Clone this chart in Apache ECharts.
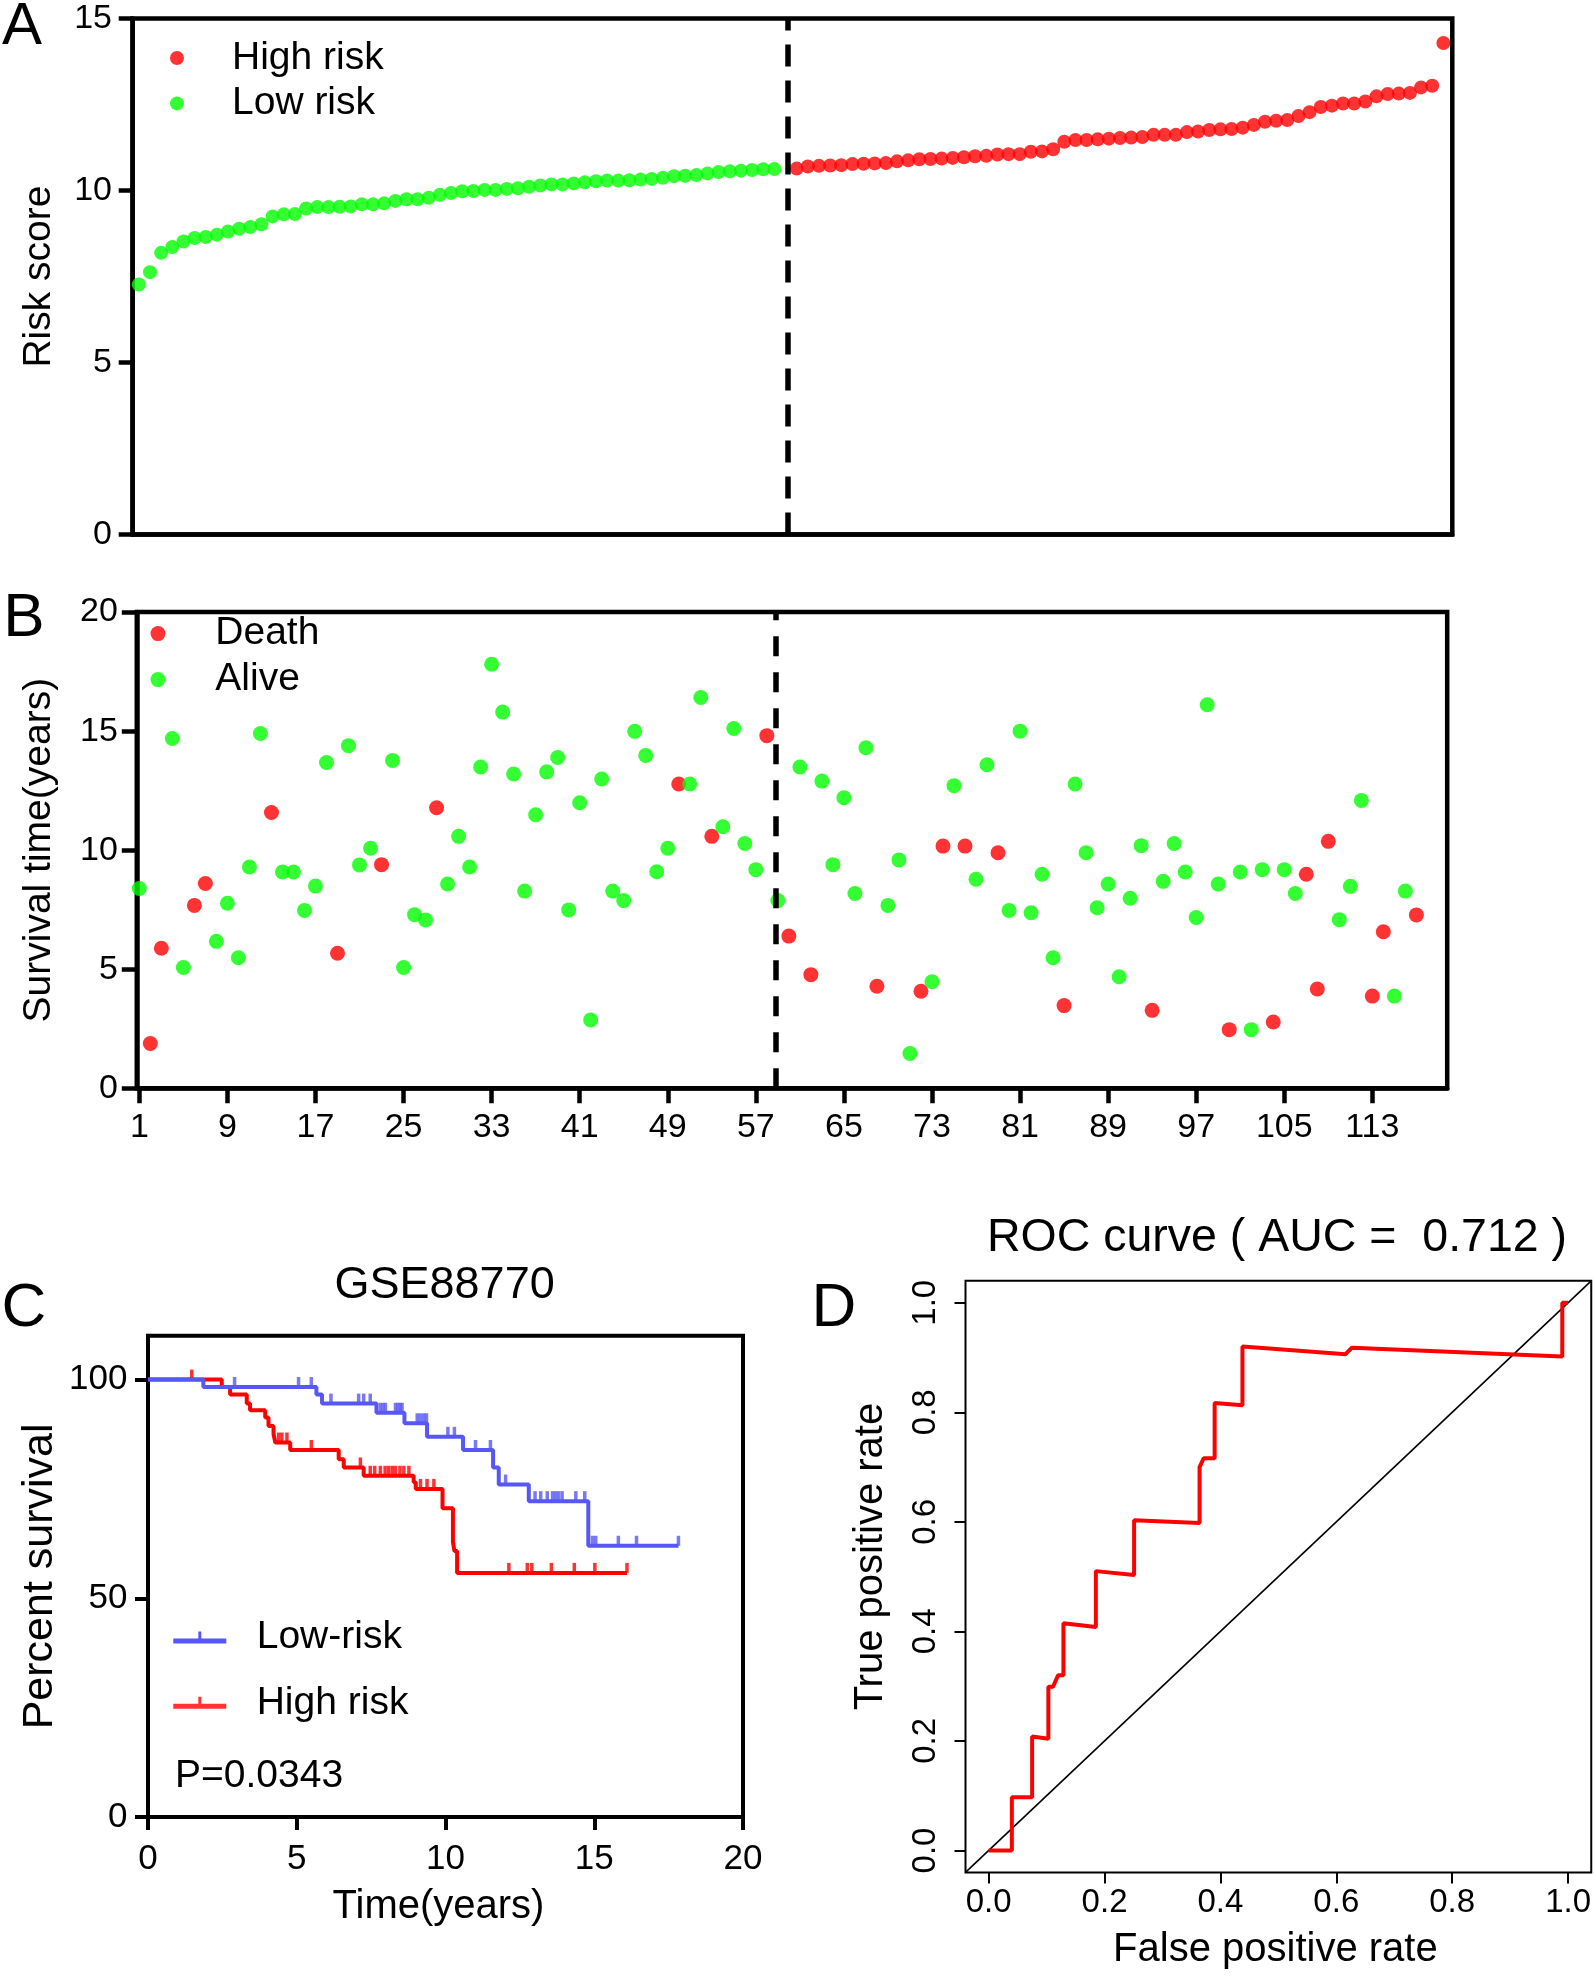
<!DOCTYPE html>
<html><head><meta charset="utf-8">
<script src="https://cdn.jsdelivr.net/npm/echarts@6/dist/echarts.min.js"></script>
<style>html,body{margin:0;padding:0;background:#fff}#c{width:1594px;height:1977px}</style>
</head><body><div id="c"></div>
<script>
const FONT = '"Liberation Sans", Arial, Helvetica, sans-serif';
const RED = '#ff0000', GREEN = '#00ff00', BLUE = '#5757f5';

// ---------- Panel A: risk score (sorted) ----------
const lowRiskScore = [
  7.27,7.63,8.19,8.36,8.52,8.62,8.65,8.72,8.81,8.89,
  8.94,9.02,9.25,9.31,9.32,9.48,9.52,9.52,9.53,9.54,
  9.60,9.60,9.63,9.70,9.75,9.75,9.79,9.88,9.93,9.98,
  9.99,10.02,10.02,10.05,10.07,10.11,10.15,10.18,10.18,10.21,
  10.24,10.27,10.29,10.29,10.30,10.32,10.34,10.37,10.42,10.43,
  10.45,10.50,10.54,10.56,10.58,10.60,10.62,10.63];
const highRiskScore = [
  10.64,10.70,10.72,10.73,10.74,10.77,10.78,10.79,10.80,10.85,
  10.88,10.91,10.92,10.93,10.95,10.97,11.00,11.01,11.05,11.06,
  11.06,11.13,11.14,11.20,11.42,11.47,11.47,11.49,11.51,11.53,
  11.54,11.56,11.62,11.62,11.62,11.70,11.72,11.76,11.78,11.79,
  11.83,11.91,12.00,12.03,12.05,12.17,12.28,12.43,12.47,12.53,
  12.53,12.59,12.74,12.81,12.82,12.84,13.00,13.05,14.29];
const lowRiskStart = 1, highRiskStart = 60, riskCutoffA = 59.2;
const riskTicks = [0, 5, 10, 15];

// ---------- Panel B: survival time per patient ----------
const survivalYears = [
  8.39,1.88,5.88,14.69,5.07,7.68,8.60,6.17,7.77,5.48,
  9.29,14.90,11.58,9.08,9.08,7.47,8.49,13.68,5.67,14.39,
  9.38,10.08,9.39,13.77,5.07,7.29,7.07,11.78,8.58,10.58,
  9.29,13.49,17.81,15.80,13.20,8.28,11.49,13.29,13.89,7.49,
  11.99,2.87,12.99,8.28,7.88,14.99,13.98,9.09,10.08,12.78,
  12.78,16.41,10.58,10.98,15.11,10.28,9.18,14.81,7.88,6.39,
  13.49,4.77,12.90,9.39,12.20,8.18,14.30,4.28,7.68,9.59,
  1.46,4.07,4.47,10.17,12.71,10.17,8.78,13.59,9.89,7.47,
  15.00,7.37,8.99,5.48,3.47,12.78,9.89,7.58,8.58,4.68,
  7.98,10.19,3.27,8.69,10.28,9.08,7.17,16.11,8.58,2.46,
  9.08,2.46,9.18,2.78,9.18,8.18,8.99,4.17,10.37,7.08,
  8.48,12.09,3.87,6.57,3.87,8.28,7.28];
const deathStatus = [
  0,1,1,0,0,1,1,0,0,0,
  0,0,1,0,0,0,0,0,1,0,
  0,0,1,0,0,0,0,1,0,0,
  0,0,0,0,0,0,0,0,0,0,
  0,0,0,0,0,0,0,0,0,1,
  0,0,1,0,0,0,0,1,0,1,
  0,1,0,0,0,0,0,1,0,0,
  0,1,0,1,0,1,0,0,1,0,
  0,0,0,0,1,0,0,0,0,0,
  0,0,1,0,0,0,0,0,0,1,
  0,0,0,1,0,0,1,1,1,0,
  0,0,1,1,0,0,1];
const patientTicks = [1,9,17,25,33,41,49,57,65,73,81,89,97,105,113];
const survTicks = [0, 5, 10, 15, 20];
const riskCutoffB = 58.85;

// ---------- Panel C: Kaplan-Meier (GSE88770) ----------
const kmLowRisk = [[0,100],[1.86,98.3],[5.66,96.6],[5.85,94.5],[7.68,92.4],[8.62,90.0],[9.38,86.9],
  [10.59,83.9],[11.6,79.9],[11.79,76.0],[12.8,72.2],[14.8,62.0],[17.83,62.0]];
const kmHighRisk = [[0,100],[2.48,98.3],[2.76,96.6],[3.32,94.5],[3.43,93.0],[3.94,91.3],[4.05,89.4],
  [4.22,87.5],[4.28,85.6],[4.78,83.9],[6.41,81.8],[6.58,79.9],[7.25,78.0],[8.93,76.5],[9.0,75.0],
  [9.9,70.6],[10.25,62.9],[10.3,60.8],[10.39,55.8],[16.1,55.8]];
const censorLowRisk = [[2.91,98.3],[5.06,98.3],[5.49,98.3],[6.15,94.5],[7.08,94.5],[7.25,94.5],[7.47,94.5],
  [7.81,92.4],[7.9,92.4],[7.98,92.4],[8.32,92.4],[8.4,92.4],[8.48,92.4],[8.54,92.4],
  [9.05,90.0],[9.16,90.0],[9.27,90.0],[9.36,90.0],[10.08,86.9],[10.3,86.9],[11.01,83.9],[11.51,83.9],
  [12.02,76.0],[13.01,72.2],[13.2,72.2],[13.42,72.2],[13.6,72.2],[13.7,72.2],[13.8,72.2],[13.92,72.2],
  [14.38,72.2],[14.68,72.2],[14.94,62.0],[15.05,62.0],[15.81,62.0],[16.42,62.0],[17.83,62.0]];
const censorHighRisk = [[1.47,100],[4.39,85.6],[4.5,85.6],[4.67,85.6],[5.49,83.9],[7.14,79.9],
  [7.47,78.0],[7.62,78.0],[7.81,78.0],[7.97,78.0],[8.09,78.0],[8.21,78.0],[8.32,78.0],[8.47,78.0],
  [8.6,78.0],[8.77,78.0],[9.16,75.0],[9.38,75.0],[9.61,75.0],
  [12.13,55.8],[12.75,55.8],[12.9,55.8],[13.56,55.8],[14.33,55.8],[15.02,55.8],[16.1,55.8]];
const timeTicks = [0, 5, 10, 15, 20];
const pctTicks = [0, 50, 100];

// ---------- Panel D: ROC ----------
const rocCurve = [[0,0],[0.04,0],[0.04,0.097],[0.075,0.097],[0.075,0.208],[0.103,0.204],[0.103,0.299],
  [0.111,0.299],[0.12,0.32],[0.129,0.32],[0.129,0.415],[0.185,0.408],[0.185,0.51],[0.251,0.503],
  [0.251,0.603],[0.364,0.598],[0.364,0.70],[0.371,0.716],[0.39,0.716],[0.39,0.817],[0.438,0.813],
  [0.438,0.92],[0.616,0.906],[0.627,0.918],[0.99,0.902],[0.99,1.0],[1.0,1.0]];
const diagonal = [[-0.04,-0.04],[1.04,1.04]];
const rocTicks = [0, 0.2, 0.4, 0.6, 0.8, 1.0];
const aucText = 'ROC curve ( AUC =  0.712 )';

const KM_ICON = 'path://M0,7L53,7L53,12L0,12Z M25,0L28,0L28,7L25,7Z';

function axLine(w, show){ return {show: show !== false, onZero:false, lineStyle:{color:'#000', width:w}}; }
function ticks(vals, len, w){ return {show:true, length:len, customValues: vals, lineStyle:{color:'#000', width:w}}; }
function labels(vals, fs, margin, extra){ return Object.assign({show:true, customValues: vals, fontSize:fs, margin:margin, lineHeight:36, color:'#000', fontFamily:FONT}, extra||{}); }
const noSplit = {show:false};

const chart = echarts.init(document.getElementById('c'), null, {renderer:'canvas'});
const option = {
  animation:false,
  backgroundColor:'#fff',
  textStyle:{fontFamily:FONT, color:'#000'},
  grid:[
    {left:132.7, top:18.6, width:1319.6, height:516, show:true, borderColor:'#000', borderWidth:4.5},
    {left:136.8, top:612.1, width:1310.4, height:476.1, show:true, borderColor:'#000', borderWidth:4.5},
    {left:148, top:1335.8, width:595, height:481.2, show:true, borderColor:'#000', borderWidth:4},
    {left:965.5, top:1280.8, width:627, height:591.6, show:true, borderColor:'#000', borderWidth:2}
  ],
  xAxis:[
    {gridIndex:0, type:'value', min:0.45, max:118.8, axisLine:axLine(4.5), axisTick:{show:false}, axisLabel:{show:false}, splitLine:noSplit},
    {gridIndex:1, type:'value', min:0.77, max:119.8, axisLine:axLine(4.5), axisTick:ticks(patientTicks,15,4.5),
      axisLabel:labels(patientTicks,34,21), splitLine:noSplit},
    {gridIndex:2, type:'value', min:0, max:20, interval:5, axisLine:axLine(4), axisTick:ticks(timeTicks,13,4),
      axisLabel:labels(timeTicks,35,24), splitLine:noSplit,
      name:'Time(years)', nameLocation:'middle', nameGap:67,
      nameTextStyle:{fontSize:40, lineHeight:46, color:'#000', fontFamily:FONT, padding:[0,14,0,0]}},
    {gridIndex:3, type:'value', min:-0.04, max:1.04, axisLine:axLine(2,false), axisTick:ticks(rocTicks,11,2),
      axisLabel:labels(rocTicks,33,13,{formatter:v=>Number(v).toFixed(1)}), splitLine:noSplit,
      name:'False positive rate', nameLocation:'middle', nameGap:54.6,
      nameTextStyle:{fontSize:40, lineHeight:46, color:'#000', fontFamily:FONT, padding:[0,6,0,0]}}
  ],
  yAxis:[
    {gridIndex:0, type:'value', min:0, max:15, axisLine:axLine(4.5), axisTick:ticks(riskTicks,14,4.5),
      axisLabel:labels(riskTicks,34,20.7), splitLine:noSplit,
      name:'Risk score', nameLocation:'middle', nameGap:70.7,
      nameTextStyle:{fontSize:39, lineHeight:46, color:'#000', fontFamily:FONT}},
    {gridIndex:1, type:'value', min:0, max:20, axisLine:axLine(4.5), axisTick:ticks(survTicks,15,4.5),
      axisLabel:labels(survTicks,34,19), splitLine:noSplit,
      name:'Survival time(years)', nameLocation:'middle', nameGap:74.3,
      nameTextStyle:{fontSize:39, lineHeight:46, color:'#000', fontFamily:FONT}},
    {gridIndex:2, type:'value', min:0, max:110, axisLine:axLine(4), axisTick:ticks(pctTicks,13,4),
      axisLabel:labels(pctTicks,35,20.5), splitLine:noSplit,
      name:'Percent survival', nameLocation:'middle', nameGap:84,
      nameTextStyle:{fontSize:43, lineHeight:48, color:'#000', fontFamily:FONT}},
    {gridIndex:3, type:'value', min:-0.04, max:1.04, axisLine:axLine(2,false), axisTick:ticks(rocTicks,11,2),
      axisLabel:labels(rocTicks,33,21.6,{rotate:90, formatter:v=>Number(v).toFixed(1)}), splitLine:noSplit,
      name:'True positive rate', nameLocation:'middle', nameGap:71.5,
      nameTextStyle:{fontSize:40, lineHeight:46, color:'#000', fontFamily:FONT, padding:[0,0,0,40]}}
  ],
  legend:[
    {data:[{name:'High risk', icon:'circle'},{name:'Low risk', icon:'circle'}], orient:'vertical',
      left:170, top:38, itemWidth:14, itemHeight:14, itemGap:5.4, padding:0, selectedMode:false,
      textStyle:{fontSize:39, lineHeight:40, color:'#000', fontFamily:FONT, padding:[0,0,0,43]}},
    {data:[{name:'Death', icon:'circle'},{name:'Alive', icon:'circle'}], orient:'vertical',
      left:150.5, top:613.6, itemWidth:15, itemHeight:15, itemGap:6, padding:0, selectedMode:false,
      textStyle:{fontSize:39, lineHeight:40, color:'#000', fontFamily:FONT, padding:[0,0,0,44.8]}},
    {data:[{name:'Low-risk', icon:KM_ICON},{name:'High risk', icon:KM_ICON}], orient:'vertical',
      left:173.3, top:1617.5, itemWidth:53, itemHeight:12, itemGap:25.3, padding:0, selectedMode:false,
      itemStyle:{borderWidth:0},
      textStyle:{fontSize:39, lineHeight:40, color:'#000', fontFamily:FONT, padding:[0,0,0,25.4]}}
  ],
  series:[
    {name:'High risk', type:'scatter', xAxisIndex:0, yAxisIndex:0, symbolSize:14, itemStyle:{color:RED},
      data: highRiskScore.map((v,i)=>[highRiskStart+i, v])},
    {name:'Low risk', type:'scatter', xAxisIndex:0, yAxisIndex:0, symbolSize:14, itemStyle:{color:GREEN},
      data: lowRiskScore.map((v,i)=>[lowRiskStart+i, v]),
      markLine:{silent:true, symbol:['none','none'], label:{show:false}, animation:false,
        lineStyle:{color:'#000', width:5.5, type:[22,14]}, data:[{xAxis:riskCutoffA}]}},
    {name:'Death', type:'scatter', xAxisIndex:1, yAxisIndex:1, symbolSize:15, itemStyle:{color:RED},
      data: survivalYears.map((v,i)=>deathStatus[i]===1 ? [i+1, v] : null).filter(d=>d)},
    {name:'Alive', type:'scatter', xAxisIndex:1, yAxisIndex:1, symbolSize:15, itemStyle:{color:GREEN},
      data: survivalYears.map((v,i)=>deathStatus[i]===0 ? [i+1, v] : null).filter(d=>d),
      markLine:{silent:true, symbol:['none','none'], label:{show:false}, animation:false,
        lineStyle:{color:'#000', width:5.5, type:[20,16]}, data:[{xAxis:riskCutoffB}]}},
    {name:'High risk', type:'line', step:'end', xAxisIndex:2, yAxisIndex:2, showSymbol:false, symbol:'none',
      lineStyle:{color:RED, width:4}, itemStyle:{color:RED}, data:kmHighRisk},
    {name:'High risk censored', type:'scatter', xAxisIndex:2, yAxisIndex:2, symbol:'rect', symbolSize:[3.5,10],
      symbolOffset:[0,-5], itemStyle:{color:RED}, data:censorHighRisk},
    {name:'Low-risk', type:'line', step:'end', xAxisIndex:2, yAxisIndex:2, showSymbol:false, symbol:'none',
      lineStyle:{color:BLUE, width:4}, itemStyle:{color:BLUE}, data:kmLowRisk},
    {name:'Low-risk censored', type:'scatter', xAxisIndex:2, yAxisIndex:2, symbol:'rect', symbolSize:[3.5,10],
      symbolOffset:[0,-5], itemStyle:{color:BLUE}, data:censorLowRisk},
    {name:'Reference', type:'line', xAxisIndex:3, yAxisIndex:3, showSymbol:false, symbol:'none',
      lineStyle:{color:'#000', width:1.6}, data:diagonal},
    {name:'ROC', type:'line', xAxisIndex:3, yAxisIndex:3, showSymbol:false, symbol:'none',
      lineStyle:{color:RED, width:4}, data:rocCurve}
  ],
  graphic:[
    {type:'text', x:22, y:27, style:{text:'A', fontSize:60, fontFamily:FONT, fill:'#000', align:'center', verticalAlign:'middle'}},
    {type:'text', x:24, y:619, style:{text:'B', fontSize:62, fontFamily:FONT, fill:'#000', align:'center', verticalAlign:'middle'}},
    {type:'text', x:24, y:1309, style:{text:'C', fontSize:62, fontFamily:FONT, fill:'#000', align:'center', verticalAlign:'middle'}},
    {type:'text', x:834, y:1309, style:{text:'D', fontSize:62, fontFamily:FONT, fill:'#000', align:'center', verticalAlign:'middle'}},
    {type:'text', x:444.6, y:1286, style:{text:'GSE88770', fontSize:45, fontFamily:FONT, fill:'#000', align:'center', verticalAlign:'middle'}},
    {type:'text', x:1277, y:1238, style:{text:aucText, fontSize:46.5, fontFamily:FONT, fill:'#000', align:'center', verticalAlign:'middle'}},
    {type:'text', x:175, y:1776, style:{text:'P=0.0343', fontSize:39, fontFamily:FONT, fill:'#000', align:'left', verticalAlign:'middle'}}
  ]
};
chart.setOption(option);
</script></body></html>
